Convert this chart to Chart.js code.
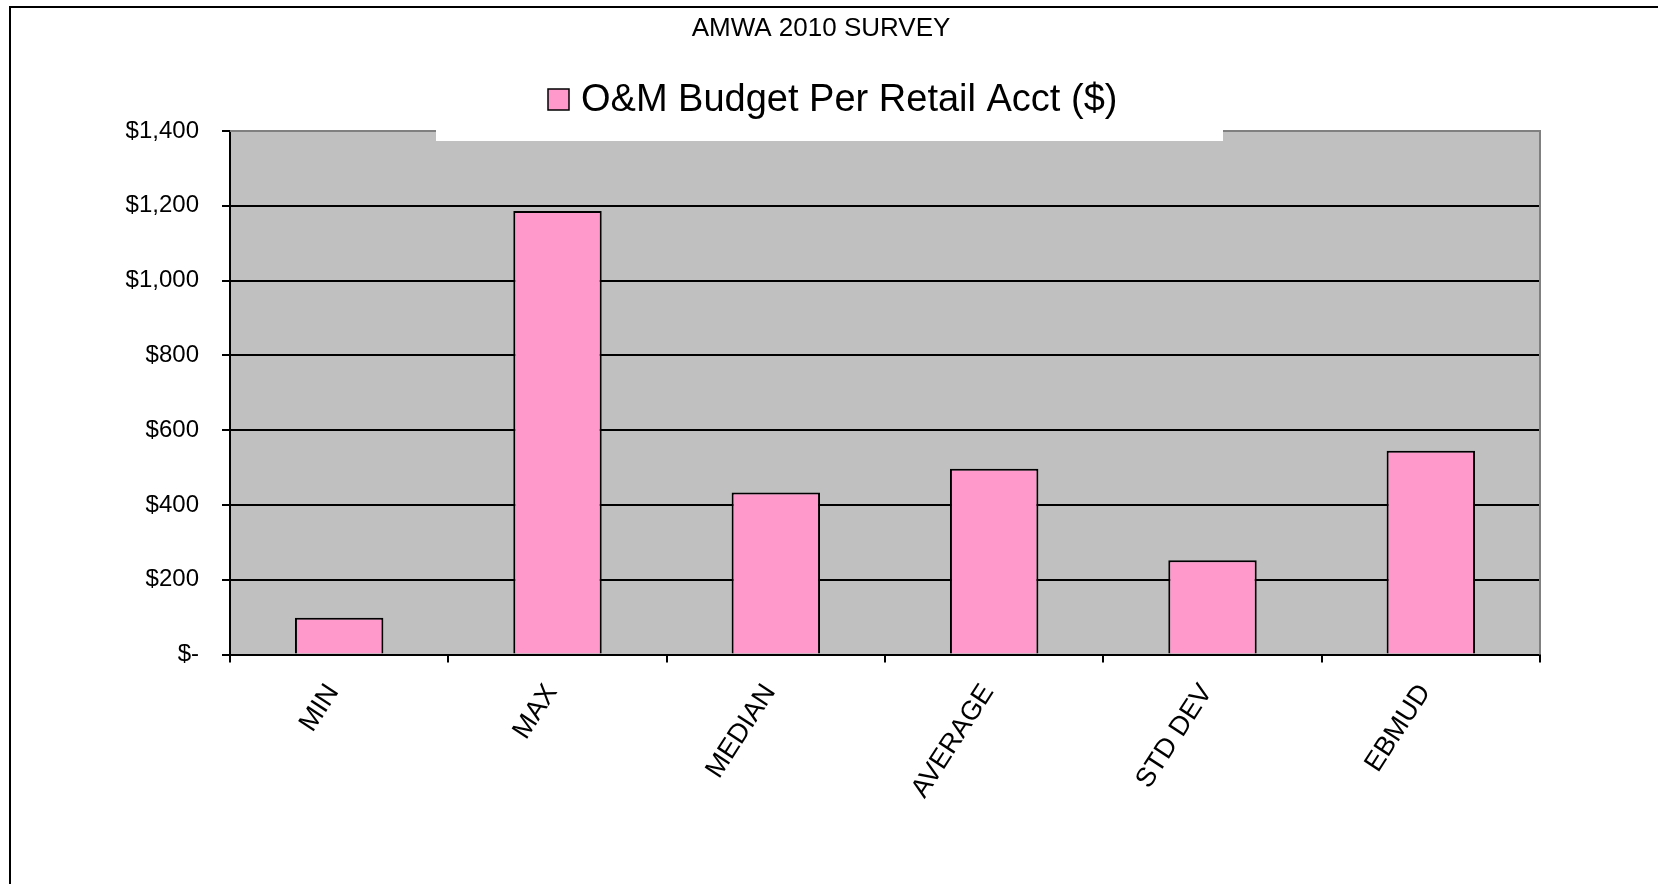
<!DOCTYPE html>
<html><head><meta charset="utf-8">
<script src="https://cdn.jsdelivr.net/npm/chart.js@4.4.0/dist/chart.umd.min.js"></script>
<style>html,body{margin:0;padding:0;background:#fff;overflow:hidden;} canvas{display:block;}</style>
</head><body>
<canvas id="c" width="1658" height="884"></canvas>
<script>
const chartTitle = 'AMWA 2010 SURVEY';
const seriesName = 'O&M Budget Per Retail Acct ($)';
const categories = ['MIN', 'MAX', 'MEDIAN', 'AVERAGE', 'STD DEV', 'EBMUD'];
const values = [98, 1186, 433, 497, 252, 545];
const yTickValues = [0, 200, 400, 600, 800, 1000, 1200, 1400];
const yTickLabels = ['$-', '$200', '$400', '$600', '$800', '$1,000', '$1,200', '$1,400'];

const FONT = "'Liberation Sans', Arial, sans-serif";
const PINK = '#FF99CC';
const PLOT_BG = '#C0C0C0';

const decor = {
  id: 'decor',
  beforeDraw(chart) {
    const ctx = chart.ctx, a = chart.chartArea;
    ctx.save();
    ctx.fillStyle = '#fff';
    ctx.fillRect(0, 0, chart.width, chart.height);
    ctx.fillStyle = PLOT_BG;
    ctx.fillRect(a.left, a.top, a.right - a.left, a.bottom - a.top);
    ctx.restore();
  },
  afterDraw(chart) {
    const ctx = chart.ctx, a = chart.chartArea;
    ctx.save();
    // plot frame (top/right) in gray
    ctx.strokeStyle = '#808080';
    ctx.lineWidth = 2;
    ctx.beginPath();
    ctx.moveTo(a.left, a.top);
    ctx.lineTo(a.right, a.top);
    ctx.lineTo(a.right, a.bottom);
    ctx.stroke();
    // legend box (white, overlaps plot top)
    ctx.fillStyle = '#fff';
    ctx.fillRect(436, 60, 1223 - 436, 141 - 60);
    // legend swatch
    ctx.fillStyle = PINK;
    ctx.fillRect(548, 89, 21, 21);
    ctx.strokeStyle = '#000';
    ctx.lineWidth = 1.5;
    ctx.strokeRect(548, 89, 21, 21);
    // legend text
    ctx.fillStyle = '#000';
    ctx.font = '38px ' + FONT;
    ctx.textBaseline = 'middle';
    ctx.textAlign = 'left';
    ctx.fillText(chart.data.datasets[0].label, 581, 101);
    // title
    ctx.font = '26px ' + FONT;
    ctx.textAlign = 'center';
    ctx.fillText(chartTitle, 821, 29);
    // outer frame (left/top)
    ctx.strokeStyle = '#000';
    ctx.lineWidth = 2;
    ctx.beginPath();
    ctx.moveTo(10, chart.height + 5);
    ctx.lineTo(10, 7);
    ctx.lineTo(chart.width + 5, 7);
    ctx.stroke();
    ctx.restore();
  }
};

new Chart(document.getElementById('c'), {
  type: 'bar',
  data: {
    labels: categories,
    datasets: [{
      label: seriesName,
      data: values,
      backgroundColor: PINK,
      borderColor: '#000',
      borderWidth: 2,
      borderSkipped: 'start',
      barPercentage: 0.405,
      categoryPercentage: 1.0
    }]
  },
  options: {
    responsive: false,
    animation: false,
    devicePixelRatio: 1,
    layout: { padding: { top: 131, left: 0, right: 118, bottom: 0 } },
    plugins: {
      legend: { display: false },
      title: { display: false },
      tooltip: { enabled: false }
    },
    scales: {
      x: {
        afterFit(scale) { scale.height = 229.5; },
        grid: {
          drawOnChartArea: false,
          drawTicks: true,
          tickLength: 8,
          tickColor: '#000',
          lineWidth: 2,
          offset: true
        },
        border: { color: '#000', width: 2 },
        ticks: {
          color: '#000',
          font: { family: FONT, size: 27 },
          minRotation: 57,
          maxRotation: 57,
          autoSkip: false,
          padding: 16,
          labelOffset: -6
        }
      },
      y: {
        min: 0,
        max: 1400,
        afterFit(scale) { scale.width = 230; },
        afterBuildTicks(scale) { scale.ticks = yTickValues.map(v => ({ value: v })); },
        grid: {
          color: (c) => (c.tick && (c.tick.value === 0 || c.tick.value === 1400)) ? 'rgba(0,0,0,0)' : '#000',
          tickColor: '#000',
          tickLength: 8,
          lineWidth: 2
        },
        border: { color: '#000', width: 2 },
        ticks: {
          color: '#000',
          font: { family: FONT, size: 24 },
          padding: 23,
          callback: (v) => yTickLabels[yTickValues.indexOf(v)]
        }
      }
    }
  },
  plugins: [decor]
});
</script>
</body></html>
